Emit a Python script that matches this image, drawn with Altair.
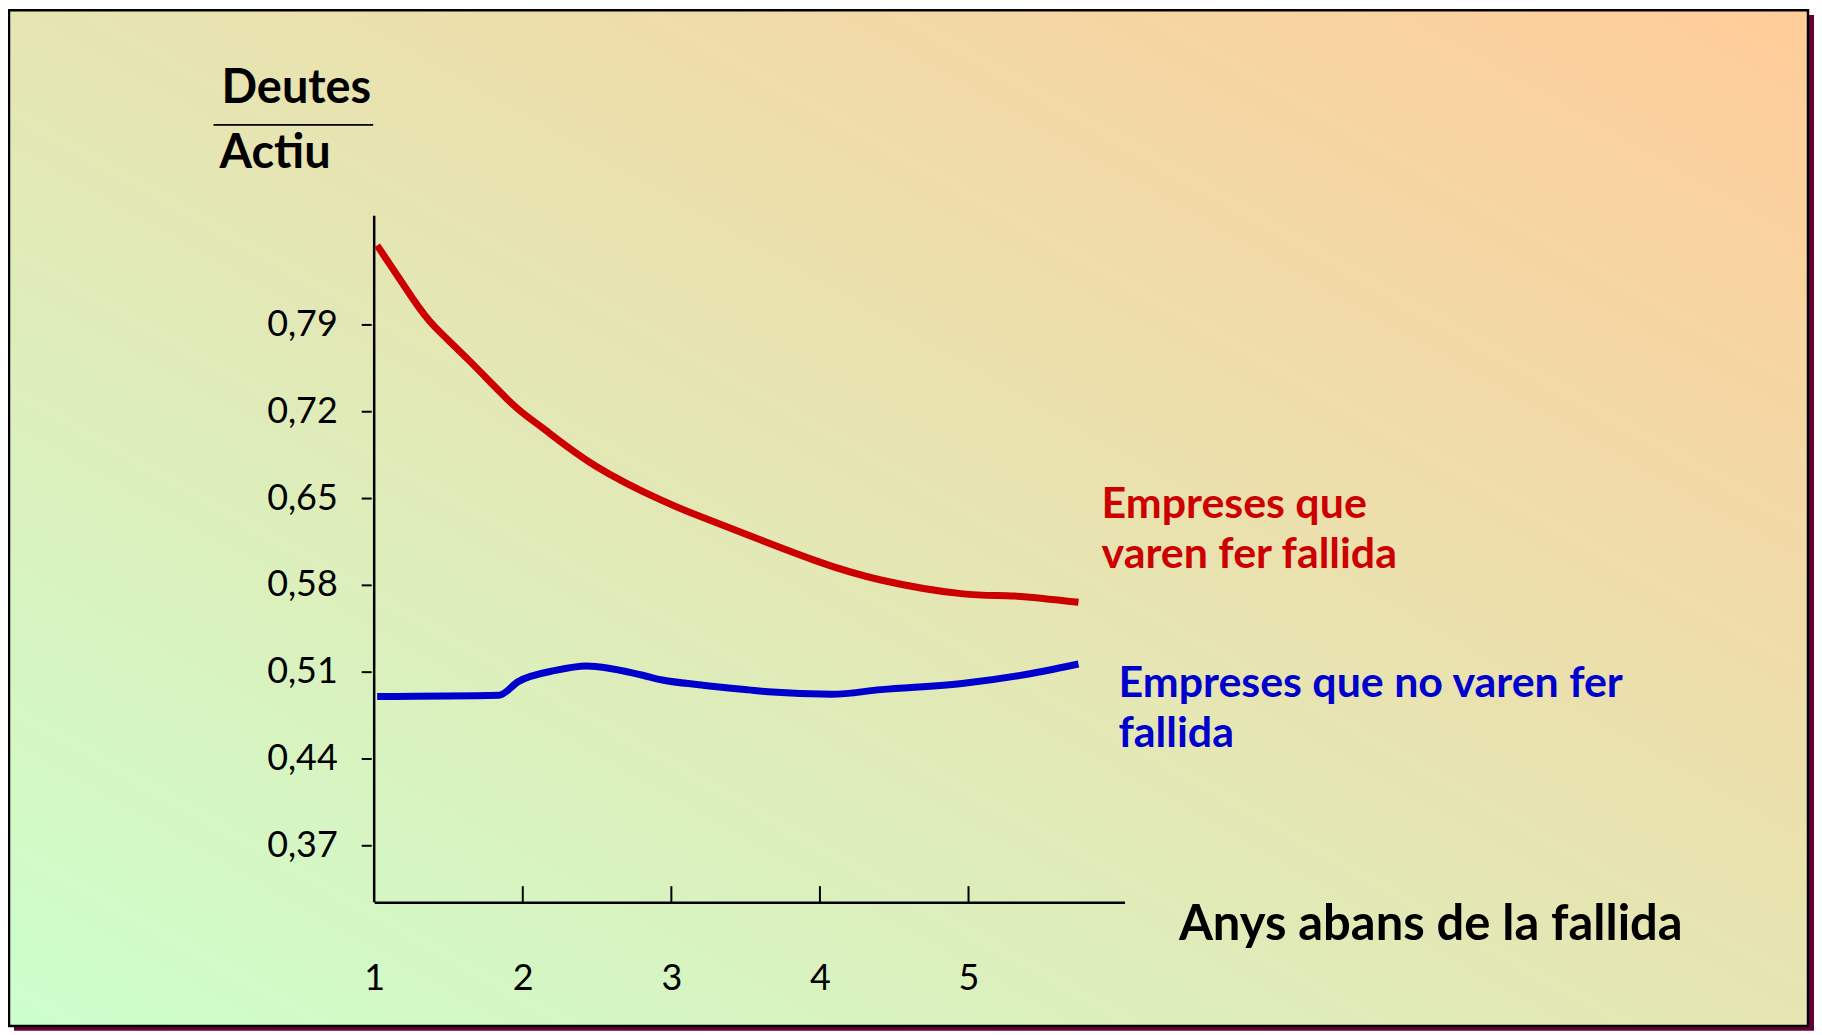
import altair as alt
import pandas as pd

# ---- data ----
red_x = [1.02, 1.26, 1.41, 1.64, 1.93, 2.13, 2.49, 2.94, 3.20, 3.52, 3.96, 4.41, 4.95, 5.31, 5.74]
red_y = [0.854, 0.811, 0.788, 0.761, 0.726, 0.707, 0.676, 0.648, 0.635, 0.620, 0.600, 0.584, 0.573, 0.571, 0.566]

blue_x = [1.02, 1.84, 1.97, 2.22, 2.43, 2.80, 2.94, 3.20, 3.52, 3.65, 4.08, 4.41, 4.97, 5.35, 5.74]
blue_y = [0.490, 0.491, 0.502, 0.511, 0.5146, 0.5073, 0.5033, 0.4993, 0.4953, 0.4938, 0.4918, 0.4955, 0.5006, 0.507, 0.5162]

series_names = ["Empreses que varen fer fallida", "Empreses que no varen fer fallida"]
x_tick_labels = [1, 2, 3, 4, 5]
x_inner_ticks = [2, 3, 4, 5]
y_tick_values = [0.37, 0.44, 0.51, 0.58, 0.65, 0.72, 0.79]

X_DOMAIN = [1, 6.05]
Y_DOMAIN = [0.324, 0.878]
W, H = 752, 688
FONT = "Lato"

red_df = pd.DataFrame({"any": red_x, "ratio": red_y, "serie": series_names[0]})
blue_df = pd.DataFrame({"any": blue_x, "ratio": blue_y, "serie": series_names[1]})
ticks_df = pd.DataFrame({"any": x_inner_ticks})
one = pd.DataFrame({"k": [0]})

xscale = alt.Scale(domain=X_DOMAIN, nice=False, zero=False)
yscale = alt.Scale(domain=Y_DOMAIN, nice=False, zero=False)
cscale = alt.Scale(domain=series_names, range=["#CC0000", "#0000CC"])

x_axis = alt.Axis(
    values=x_tick_labels, format="d", ticks=False, grid=False, labelPadding=60,
    labelFlush=False,
    labelFont=FONT, labelFontSize=36, labelColor="black",
    domainColor="black", domainWidth=2.5, zindex=1,
    title="Anys abans de la fallida", titleFont=FONT, titleFontSize=49,
    titleFontWeight="bold", titleColor="black", titleX=806, titleY=37,
    titleAlign="left", titleBaseline="alphabetic", titleAngle=0,
)
y_axis = alt.Axis(
    values=y_tick_values, domain=False, grid=False, ticks=True, tickSize=10,
    tickWidth=2, tickColor="black", offset=3, labelPadding=24,
    labelFont=FONT, labelFontSize=36, labelColor="black",
    labelExpr="replace(format(datum.value, '.2f'), '.', ',')",
    title=None, zindex=1,
)

# frame (slide background with shadow)
shadow = alt.Chart(one).mark_rect(fill="#660033").encode(
    x=alt.value(-361), x2=alt.value(1443), y=alt.value(-201), y2=alt.value(817)
)
frame = alt.Chart(one).mark_rect(
    fill={"gradient": "linear", "x1": 0, "y1": 1, "x2": 1, "y2": 0,
          "stops": [{"offset": 0, "color": "#CCFFCC"}, {"offset": 1, "color": "#FFCC99"}]},
    stroke="black", strokeWidth=2.5,
).encode(x=alt.value(-366), x2=alt.value(1437), y=alt.value(-206), y2=alt.value(812))

red_line = alt.Chart(red_df).mark_line(strokeWidth=7, interpolate="natural", strokeCap="butt").encode(
    x=alt.X("any:Q", scale=xscale, axis=x_axis),
    y=alt.Y("ratio:Q", scale=yscale, axis=y_axis),
    color=alt.Color("serie:N", scale=cscale, legend=None),
)
blue_line = alt.Chart(blue_df).mark_line(strokeWidth=7, interpolate="monotone", strokeCap="butt").encode(
    x=alt.X("any:Q", scale=xscale, axis=x_axis),
    y=alt.Y("ratio:Q", scale=yscale, axis=y_axis),
    color=alt.Color("serie:N", scale=cscale, legend=None),
)

y_domain = alt.Chart(one).mark_rule(color="black", strokeWidth=2.5).encode(
    x=alt.datum(X_DOMAIN[0]), y=alt.datum(Y_DOMAIN[1]), y2=alt.datum(Y_DOMAIN[0])
)

inner_ticks = alt.Chart(ticks_df).mark_rule(color="black", strokeWidth=2).encode(
    x="any:Q", y=alt.value(H - 16), y2=alt.value(H)
)

def label(txt, x, y, color, size, weight="bold"):
    return alt.Chart(one).mark_text(
        text=txt, font=FONT, fontSize=size, fontWeight=weight, color=color,
        align="left", baseline="alphabetic",
    ).encode(x=alt.value(x), y=alt.value(y))

texts = [
    label("Empreses que", 729, 303, "#CC0000", 43),
    label("varen fer fallida", 729, 353, "#CC0000", 43),
    label("Empreses que no varen fer", 746, 482, "#0000CC", 43),
    label("fallida", 746, 533, "#0000CC", 43),
    label("Deutes", -153, -113, "black", 47),
    label("Actiu", -155, -48, "black", 47),
]
frac_line = alt.Chart(one).mark_rule(color="black", strokeWidth=2).encode(
    x=alt.value(-161), x2=alt.value(-1), y=alt.value(-91)
)

chart = alt.layer(shadow, frame, y_domain, red_line, blue_line, inner_ticks, frac_line, *texts).properties(
    width=W, height=H,
    autosize=alt.AutoSizeParams(type="none"),
    padding={"left": 367, "top": 207, "right": 691, "bottom": 129},
).configure_view(stroke=None).configure(background="white")

chart.save("out.html", embed_options={"renderer": "svg", "actions": False})
